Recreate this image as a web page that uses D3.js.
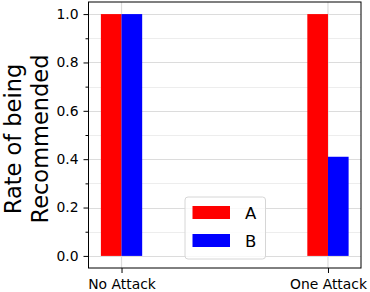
<!DOCTYPE html>
<html>
<head>
<meta charset="utf-8">
<script src="https://cdn.jsdelivr.net/npm/d3@7"></script>
<style>
  body { margin: 0; background: #fff; }
  text { font-family: "DejaVu Sans", sans-serif; }
</style>
</head>
<body>
<div id="chart"></div>
<script>
// Data
const categories = ["No Attack", "One Attack"];
const seriesNames = ["A", "B"];
const valuesA = [1.0, 1.0];
const valuesB = [1.0, 0.41];
const yTicks = [0.0, 0.2, 0.4, 0.6, 0.8, 1.0];
const yMinorTicks = [0.1, 0.3, 0.5, 0.7, 0.9];
const colors = { A: "#ff0000", B: "#0000ff" };

const width = 370;
const height = 292;
const margin = { left: 88.5, right: 9, top: 2, bottom: 24 };

const svg = d3.select("#chart")
    .append("svg")
    .attr("width", width)
    .attr("height", height);

// x is a linear scale on the category index, like matplotlib
const x = d3.scaleLinear()
    .domain([-0.16, 1.16])
    .range([margin.left, width - margin.right]);

const y = d3.scaleLinear()
    .domain([-0.05, 1.05])
    .range([height - margin.bottom, margin.top]);

const barW = 0.1;

// Grid lines
const grid = svg.append("g");
grid.selectAll(".minor")
    .data(yMinorTicks)
    .enter()
    .append("line")
    .attr("x1", x.range()[0]).attr("x2", x.range()[1])
    .attr("y1", d => Math.round(y(d)) + 0.5).attr("y2", d => Math.round(y(d)) + 0.5)
    .attr("stroke", "#ededed").attr("stroke-width", 1);
grid.selectAll(".major")
    .data(yTicks)
    .enter()
    .append("line")
    .attr("x1", x.range()[0]).attr("x2", x.range()[1])
    .attr("y1", d => Math.round(y(d)) + 0.5).attr("y2", d => Math.round(y(d)) + 0.5)
    .attr("stroke", "#dcdcdc").attr("stroke-width", 1.2);
grid.selectAll(".vert")
    .data(categories)
    .enter()
    .append("line")
    .attr("x1", (d, i) => x(i)).attr("x2", (d, i) => x(i))
    .attr("y1", y.range()[0]).attr("y2", y.range()[1])
    .attr("stroke", "#dcdcdc").attr("stroke-width", 1.2);

// Bars
const bars = [];
categories.forEach((c, i) => {
    bars.push({ i: i, key: "A", v: valuesA[i], off: -barW / 2 });
    bars.push({ i: i, key: "B", v: valuesB[i], off: barW / 2 });
});

svg.selectAll(".bar")
    .data(bars)
    .enter()
    .append("rect")
    .attr("class", "bar")
    .attr("x", d => x(d.i + d.off - barW / 2))
    .attr("width", d => x(d.i + d.off + barW / 2) - x(d.i + d.off - barW / 2))
    .attr("y", d => y(d.v))
    .attr("height", d => y(0) - y(d.v))
    .attr("fill", d => colors[d.key]);

// Axes
svg.append("g")
    .attr("transform", `translate(${margin.left},0)`)
    .call(d3.axisLeft(y).tickValues(yTicks).tickFormat(d3.format(".1f")).tickSize(5).tickPadding(5));
svg.append("g")
    .attr("transform", `translate(${margin.left},0)`)
    .call(d3.axisLeft(y).tickValues(yMinorTicks).tickFormat("").tickSize(3));

svg.append("g")
    .attr("transform", `translate(0,${height - margin.bottom})`)
    .call(d3.axisBottom(x).tickValues([0, 1]).tickFormat(i => categories[i]).tickSize(5).tickPadding(6));

svg.selectAll(".tick text").attr("font-size", "13.9px").attr("fill", "#000");
svg.selectAll(".tick line").attr("stroke", "#000").attr("stroke-width", 1);
svg.selectAll(".domain").remove();

// Frame
svg.append("rect")
    .attr("x", x.range()[0])
    .attr("y", y.range()[1])
    .attr("width", x.range()[1] - x.range()[0])
    .attr("height", y.range()[0] - y.range()[1])
    .attr("fill", "none")
    .attr("stroke", "#000")
    .attr("stroke-width", 1);

// Y label (two lines)
const yLab = svg.append("text")
    .attr("transform", "translate(21,139) rotate(-90)")
    .attr("text-anchor", "middle")
    .attr("font-size", "22.5px")
    .attr("fill", "#000");
yLab.append("tspan").attr("x", 0).attr("dy", 0).text("Rate of being");
yLab.append("tspan").attr("x", 0).attr("dy", 27).text("Recommended");

// Legend
const legend = svg.append("g").attr("transform", "translate(185,197)");
legend.append("rect")
    .attr("width", 80.5).attr("height", 62)
    .attr("rx", 3)
    .attr("fill", "#fff").attr("fill-opacity", 0.8)
    .attr("stroke", "#d6d6d6");
seriesNames.forEach((s, k) => {
    legend.append("rect")
        .attr("x", 7.5).attr("y", 9 + k * 28)
        .attr("width", 37.5).attr("height", 13)
        .attr("fill", colors[s]);
    legend.append("text")
        .attr("x", 60).attr("y", 21.5 + k * 28)
        .attr("font-size", "16.5px")
        .attr("fill", "#000")
        .text(s);
});
</script>
</body>
</html>
